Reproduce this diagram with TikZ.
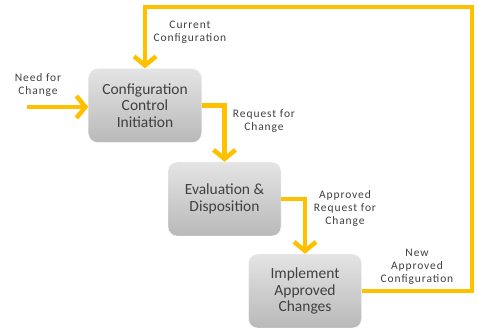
\documentclass[tikz,border=0pt]{standalone}
\usepackage{fontspec}
\setmainfont{Carlito}
\usetikzlibrary{arrows.meta}
\usetikzlibrary{positioning}
\definecolor{flowyel}{HTML}{FFC000}
\definecolor{boxtop}{HTML}{E4E4E4}
\definecolor{boxbot}{HTML}{B9B9B9}
\definecolor{boxtxt}{HTML}{404040}

\begin{document}
\begin{tikzpicture}[x=1pt, y=-1pt, box/.style={rounded corners=9pt, top color=boxtop,
		bottom color=boxbot, draw=white, minimum width=113pt, minimum height=74pt, align=center,
		text=boxtxt, font=\fontsize{15.5}{16.5}\selectfont}, flow/.style={draw=flowyel,
		line width=4.5pt, -{Straight Barb[length=9pt,width=22pt]}}, lbl/.style={align=center,
		text=boxtxt, font=\fontsize{11.5}{13}\selectfont\addfontfeature{LetterSpace=8}}]
	\useasboundingbox (0,0) rectangle (477,328);
	\node[box] (ccinit) at (145, 105.5) {Configuration\\Control\\Initiation};
	\node[box] (evdisp) at (224.5, 199) {Evaluation \&\\Disposition};
	\node[box] (impl) at (305, 291) {Implement\\Approved\\Changes};
	\coordinate (needin) at (27, 107);
	\coordinate (loopne) at (472, 7);
	\draw[flow] (needin) -- (needin -| ccinit.west);
	\draw[flow] (ccinit.east) -| (evdisp.north);
	\draw[flow] (evdisp.east) -| (impl.north);
	\draw[flow] (impl.east) -| (loopne) -| (ccinit.north);
	\node[lbl] (needlbl) at (38, 85) {Need for\\Change};
	\node[lbl] (reqlbl) at (264, 121) {Request for\\Change};
	\node[lbl] (apprlbl) at (345, 208) {Approved\\Request for\\Change};
	\node[lbl] (newlbl) at (417, 267) {New\\Approved\\Configuration};
	\node[lbl] (curlbl) at (190, 32) {Current\\Configuration};
\end{tikzpicture}
\end{document}
